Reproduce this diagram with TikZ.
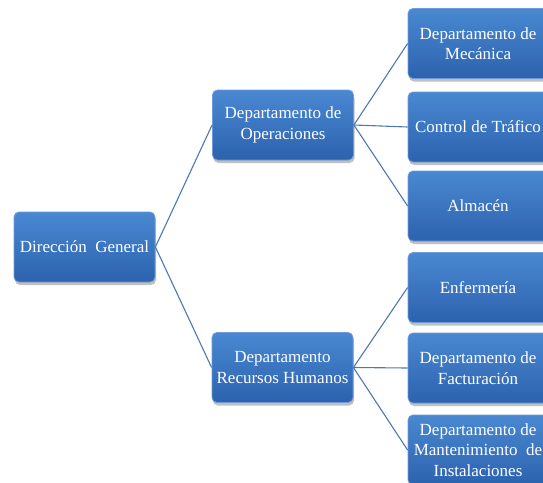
\documentclass[tikz,border=0pt]{standalone}
\usepackage{fontspec}
\setmainfont{Liberation Serif}
\usetikzlibrary{shadows}
\definecolor{boxtop}{HTML}{4A88D2}
\definecolor{boxbot}{HTML}{2C62AE}
\definecolor{boxline}{HTML}{6E9ADA}
\definecolor{conn}{HTML}{4E78B2}
\tikzset{
  orgbox/.style={draw=boxline, line width=0.8pt, rounded corners=5pt,
    top color=boxtop, bottom color=boxbot, text=white,
    minimum width=141pt, minimum height=70pt, align=center,
    font=\fontsize{17}{20.5}\selectfont,
    drop shadow={shadow xshift=1pt, shadow yshift=-3pt, opacity=0.35, fill=black!70}},
  conn/.style={draw=conn, line width=1.1pt}
}
\begin{document}
\begin{tikzpicture}[x=1pt,y=-1pt]
\useasboundingbox (0,0) rectangle (543,482);
\clip (0,0) rectangle (543,482);
\fill[white] (0,0) rectangle (543,482);
\node[orgbox] (dg) at (84.5,247) {Dirección\ \ General};
\node[orgbox] (op) at (283,125) {Departamento de\\Operaciones};
\node[orgbox] (rh) at (282.5,367.5) {Departamento\\Recursos Humanos};
\node[orgbox, minimum width=140pt] (m1) at (478,43.5) {Departamento de\\Mecánica};
\node[orgbox, minimum width=140pt] (m2) at (478,127) {Control de Tráfico};
\node[orgbox, minimum width=140pt] (m3) at (478,206) {Almacén};
\node[orgbox, minimum width=140pt] (m4) at (478,287.5) {Enfermería};
\node[orgbox, minimum width=140pt] (m5) at (478,368) {Departamento de\\Facturación};
\node[orgbox, minimum width=140pt] (m6) at (478,450) {Departamento de\\Mantenimiento\ \ de\\Instalaciones};
\draw[conn] (dg.east) -- (op.west);
\draw[conn] (dg.east) -- (rh.west);
\draw[conn] (op.east) -- (m1.west);
\draw[conn] (op.east) -- (m2.west);
\draw[conn] (op.east) -- (m3.west);
\draw[conn] (rh.east) -- (m4.west);
\draw[conn] (rh.east) -- (m5.west);
\draw[conn] (rh.east) -- (m6.west);
\end{tikzpicture}
\end{document}
